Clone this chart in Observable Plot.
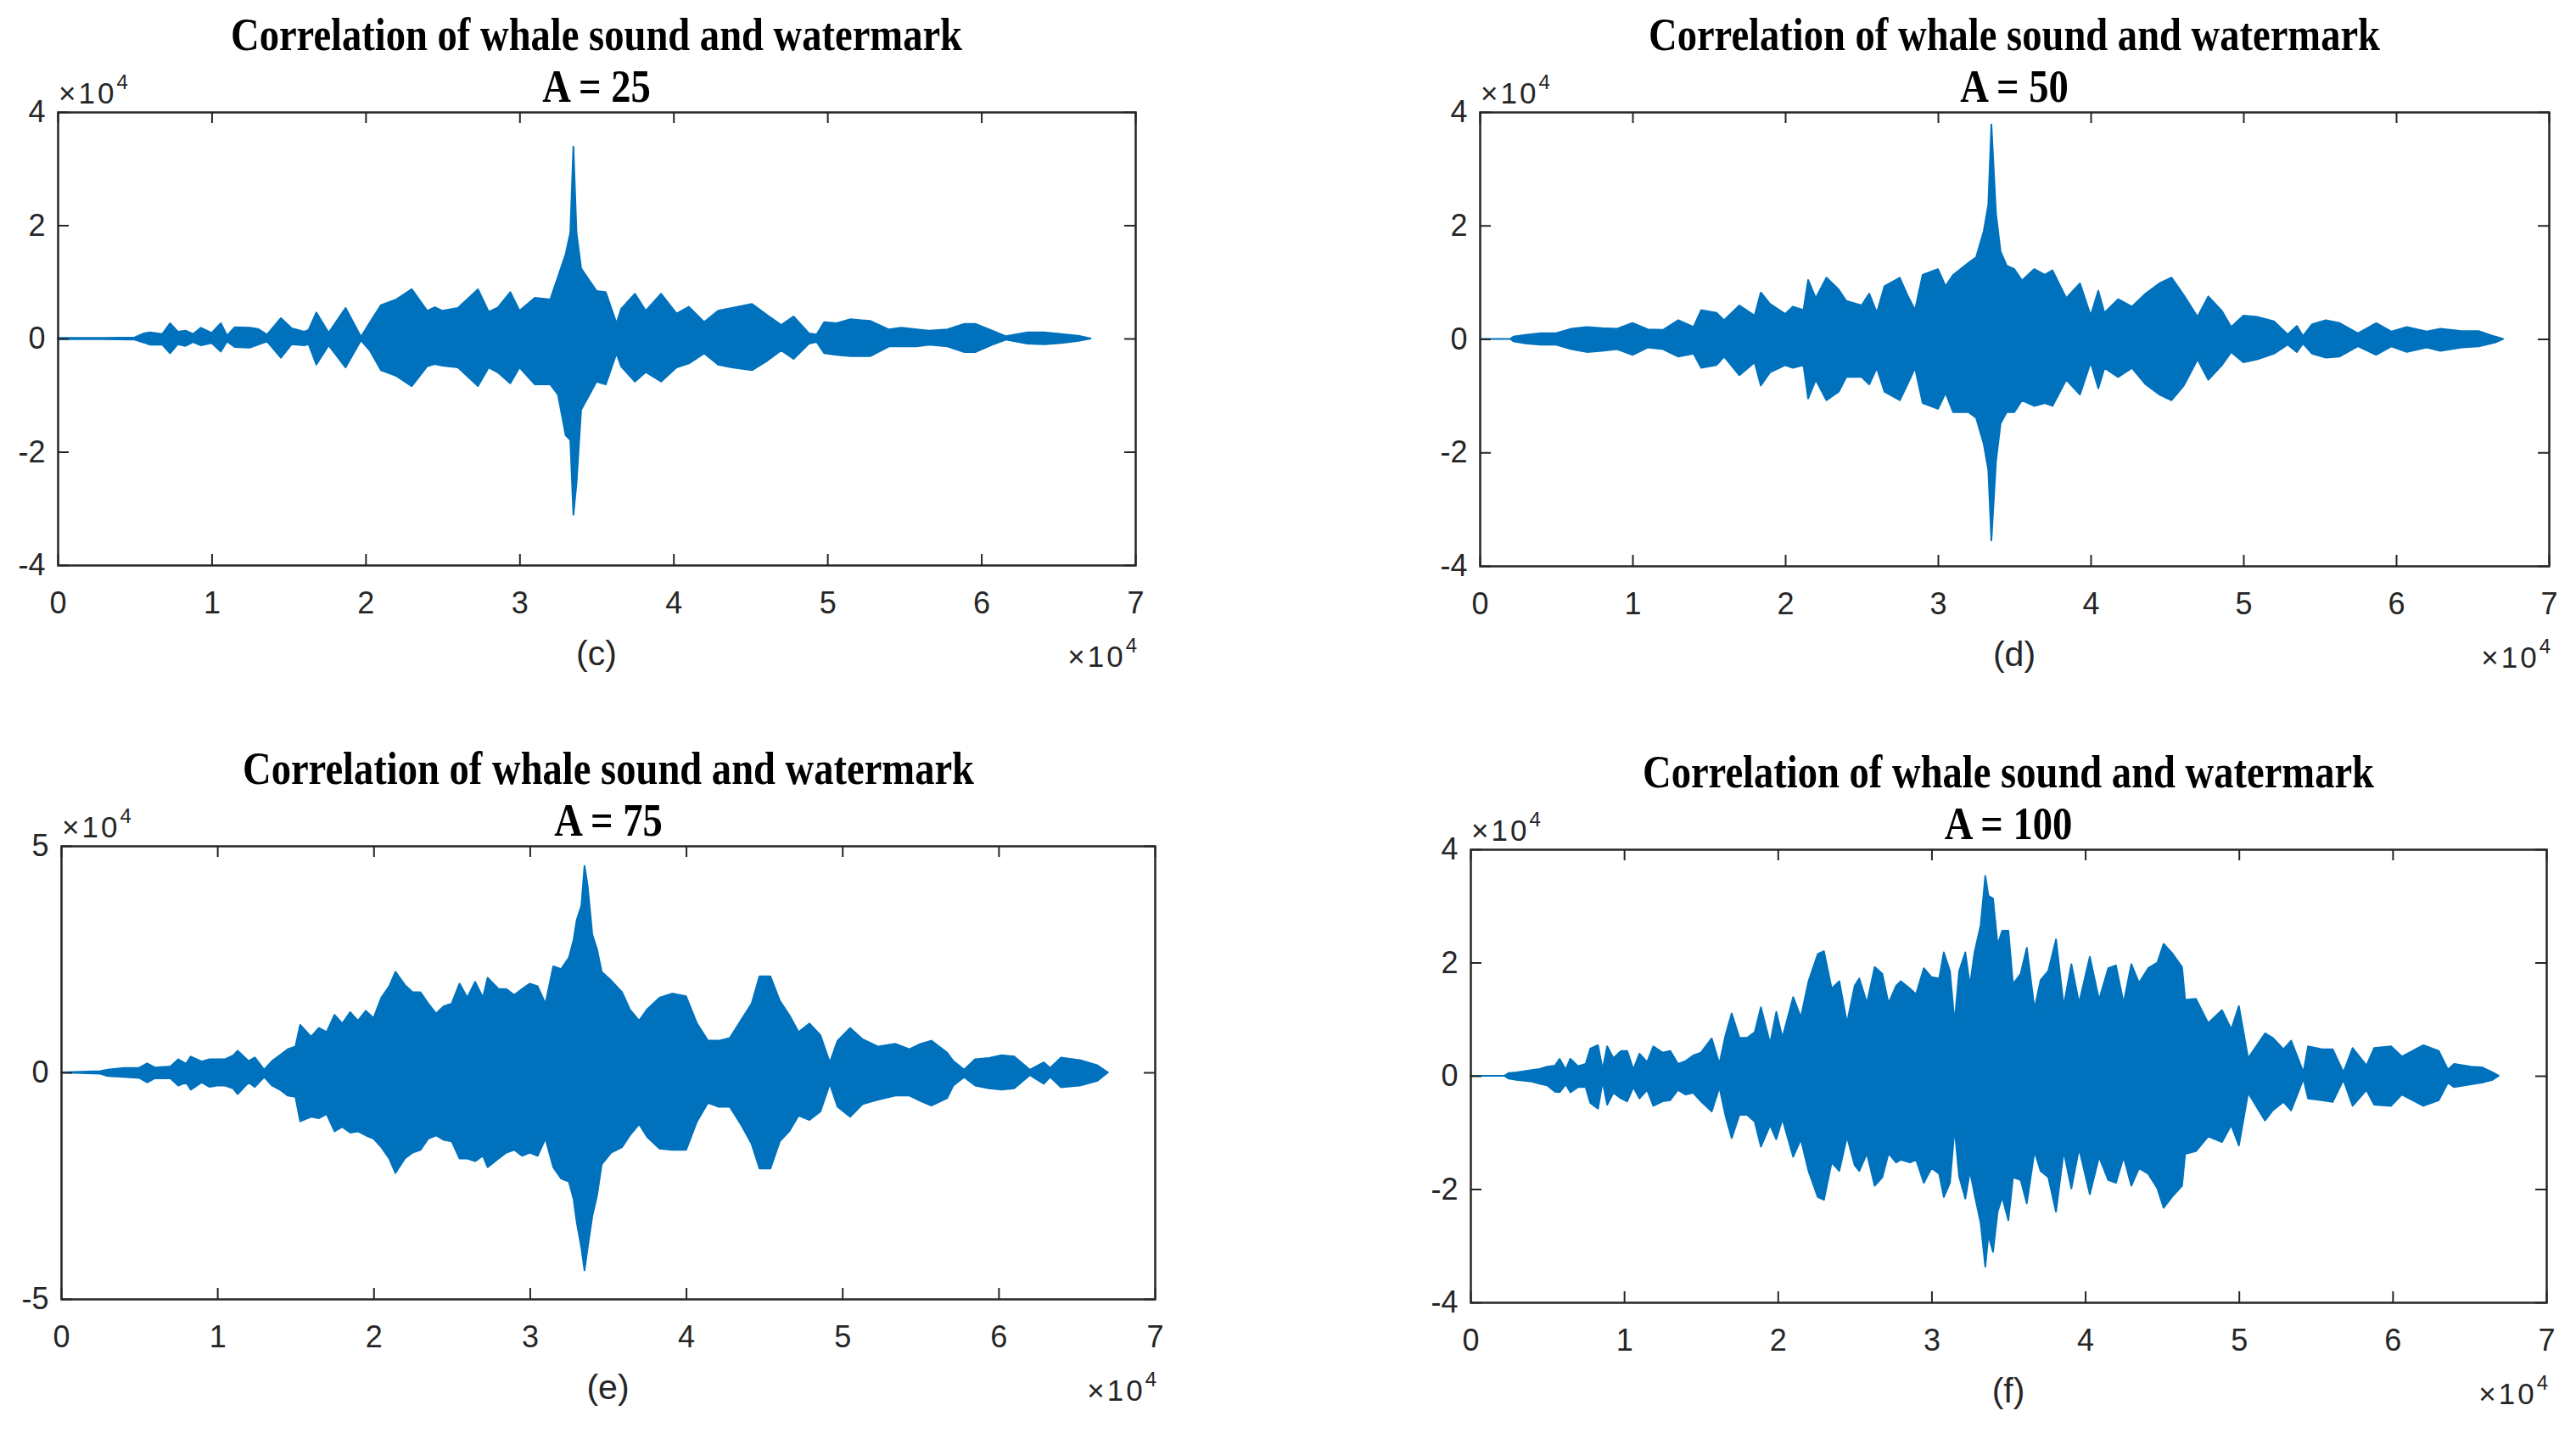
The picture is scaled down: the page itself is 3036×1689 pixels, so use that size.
<!DOCTYPE html>
<html>
<head>
<meta charset="utf-8">
<script src="https://cdn.jsdelivr.net/npm/d3@7"></script>
<script src="https://cdn.jsdelivr.net/npm/@observablehq/plot@0.6"></script>
<style>
  html, body { margin: 0; padding: 0; background: #fff; }
  body { width: 3036px; height: 1689px; position: relative; overflow: hidden; font-family: "Liberation Sans", Arial, sans-serif; }
  .abs { position: absolute; white-space: nowrap; }
  .title { font-family: "Liberation Serif", "Times New Roman", serif; font-weight: bold; font-size: 54px; color: #000; line-height: 1; }
  .expo { font-size: 35px; color: #262626; line-height: 1; letter-spacing: 3px; }
  .expo sup { font-size: 24px; position: relative; top: -4px; letter-spacing: 0; }
  .sub { font-size: 41px; color: #262626; line-height: 1; }
</style>
</head>
<body>
<script>
// ---- data (x in units of 10^4 samples, correlation in units of 10^4) ----
const xTicks = [0, 1, 2, 3, 4, 5, 6, 7];
const yTicks4 = [-4, -2, 0, 2, 4];
const yTicks5 = [-5, 0, 5];
const titleLine = "Correlation of whale sound and watermark";
const amplitudes = ["A = 25", "A = 50", "A = 75", "A = 100"];
const subLabels = ["(c)", "(d)", "(e)", "(f)"];

// Panel (c), A = 25 : upper / lower envelope of the waveform
const cX = [0,0.3,0.5,0.56,0.6,0.68,0.73,0.78,0.83,0.88,0.93,1.0,1.06,1.1,1.15,1.25,1.3,1.36,1.45,1.52,1.6,1.63,1.68,1.76,1.87,1.97,2.03,2.1,2.2,2.3,2.4,2.45,2.5,2.6,2.73,2.8,2.86,2.94,3.0,3.1,3.2,3.25,3.3,3.33,3.35,3.37,3.4,3.45,3.5,3.56,3.63,3.66,3.75,3.82,3.92,4.02,4.1,4.2,4.29,4.38,4.51,4.61,4.7,4.78,4.88,4.93,4.98,5.06,5.15,5.28,5.4,5.48,5.58,5.66,5.78,5.89,5.96,6.07,6.16,6.3,6.41,6.52,6.63,6.71];
const cTop = [0.01,0.01,0.02,0.09,0.11,0.08,0.27,0.12,0.14,0.08,0.19,0.10,0.27,0.05,0.20,0.19,0.17,0.07,0.36,0.18,0.12,0.15,0.46,0.10,0.54,0.03,0.29,0.59,0.69,0.87,0.49,0.55,0.49,0.54,0.87,0.47,0.55,0.82,0.49,0.72,0.69,1.09,1.49,1.87,3.39,1.87,1.24,1.04,0.84,0.82,0.27,0.52,0.79,0.49,0.79,0.44,0.56,0.29,0.49,0.54,0.61,0.41,0.24,0.39,0.09,0.07,0.29,0.27,0.34,0.31,0.16,0.19,0.16,0.14,0.16,0.26,0.26,0.14,0.04,0.11,0.11,0.08,0.05,0];
const cBot = [-0.01,-0.01,-0.02,-0.07,-0.11,-0.11,-0.26,-0.10,-0.13,-0.06,-0.12,-0.08,-0.23,-0.05,-0.15,-0.16,-0.11,-0.05,-0.34,-0.10,-0.12,-0.10,-0.46,-0.12,-0.51,-0.03,-0.22,-0.56,-0.66,-0.84,-0.49,-0.45,-0.48,-0.51,-0.84,-0.51,-0.60,-0.79,-0.51,-0.81,-0.81,-0.99,-1.71,-1.79,-3.11,-2.56,-1.26,-1.01,-0.76,-0.81,-0.26,-0.49,-0.76,-0.59,-0.76,-0.51,-0.44,-0.26,-0.46,-0.51,-0.56,-0.39,-0.21,-0.36,-0.09,-0.06,-0.26,-0.29,-0.31,-0.31,-0.14,-0.14,-0.14,-0.11,-0.14,-0.24,-0.24,-0.11,-0.02,-0.09,-0.10,-0.08,-0.04,0];

// Panel (d), A = 50
const dX = [0,0.2,0.22,0.3,0.4,0.5,0.6,0.7,0.8,0.9,1.0,1.1,1.2,1.3,1.4,1.45,1.55,1.6,1.7,1.8,1.84,1.9,2.0,2.05,2.12,2.15,2.2,2.27,2.35,2.4,2.5,2.55,2.6,2.65,2.75,2.8,2.85,2.9,3.0,3.05,3.1,3.2,3.25,3.3,3.33,3.35,3.38,3.41,3.45,3.5,3.55,3.63,3.7,3.75,3.84,3.93,4.0,4.05,4.09,4.18,4.27,4.36,4.45,4.53,4.61,4.7,4.77,4.86,4.92,5.0,5.09,5.2,5.29,5.35,5.39,5.45,5.54,5.63,5.75,5.87,5.97,6.07,6.2,6.29,6.43,6.54,6.65,6.7];
const dTop = [0,0,0.04,0.07,0.10,0.10,0.18,0.21,0.19,0.18,0.28,0.17,0.16,0.33,0.21,0.51,0.46,0.33,0.59,0.41,0.82,0.62,0.44,0.57,0.51,1.04,0.72,1.08,0.87,0.67,0.59,0.80,0.46,0.93,1.08,0.77,0.51,1.13,1.23,0.93,1.13,1.34,1.44,1.90,2.37,3.78,2.21,1.54,1.29,1.23,1.03,1.23,1.13,1.21,0.72,0.98,0.41,0.85,0.46,0.70,0.57,0.80,0.98,1.08,0.77,0.39,0.75,0.49,0.21,0.41,0.39,0.31,0.08,0.23,0.05,0.26,0.33,0.28,0.10,0.28,0.13,0.21,0.13,0.18,0.14,0.14,0.04,0];
const dBot = [0,0,-0.04,-0.08,-0.10,-0.10,-0.18,-0.23,-0.21,-0.18,-0.28,-0.15,-0.18,-0.31,-0.26,-0.51,-0.46,-0.31,-0.64,-0.41,-0.82,-0.59,-0.46,-0.51,-0.46,-1.05,-0.72,-1.08,-0.93,-0.67,-0.67,-0.80,-0.51,-0.93,-1.08,-0.80,-0.51,-1.13,-1.23,-0.95,-1.29,-1.29,-1.39,-1.85,-2.31,-3.55,-2.16,-1.49,-1.29,-1.29,-1.08,-1.18,-1.13,-1.18,-0.72,-0.98,-0.41,-0.87,-0.51,-0.67,-0.51,-0.80,-0.98,-1.08,-0.82,-0.36,-0.72,-0.46,-0.23,-0.41,-0.36,-0.26,-0.10,-0.23,-0.08,-0.26,-0.33,-0.31,-0.13,-0.28,-0.13,-0.23,-0.15,-0.21,-0.15,-0.13,-0.06,0];

// Panel (e), A = 75
const eX = [0,0.25,0.3,0.4,0.5,0.55,0.6,0.7,0.75,0.8,0.83,0.9,0.95,1.0,1.05,1.1,1.13,1.2,1.24,1.3,1.35,1.4,1.45,1.5,1.53,1.6,1.65,1.7,1.75,1.8,1.85,1.9,1.95,2.0,2.05,2.1,2.14,2.2,2.25,2.3,2.35,2.4,2.45,2.5,2.55,2.6,2.65,2.7,2.73,2.8,2.85,2.9,2.95,3.0,3.05,3.1,3.15,3.2,3.25,3.28,3.3,3.33,3.35,3.37,3.4,3.43,3.46,3.52,3.59,3.64,3.7,3.75,3.83,3.91,4.0,4.07,4.14,4.21,4.28,4.35,4.42,4.47,4.54,4.6,4.66,4.72,4.79,4.86,4.92,4.97,5.05,5.13,5.23,5.34,5.43,5.5,5.57,5.67,5.71,5.78,5.85,5.94,6.02,6.1,6.2,6.29,6.33,6.4,6.52,6.63,6.7];
const eTop = [0,0.03,0.06,0.10,0.10,0.20,0.11,0.13,0.29,0.19,0.35,0.24,0.29,0.29,0.29,0.37,0.48,0.25,0.33,0.06,0.25,0.38,0.51,0.57,1.05,0.79,0.98,0.89,1.27,1.08,1.33,1.14,1.36,1.20,1.65,1.90,2.22,1.93,1.77,1.77,1.52,1.30,1.46,1.52,1.96,1.65,2.00,1.65,2.09,1.84,1.84,1.71,1.84,1.96,1.90,1.52,2.34,2.28,2.53,2.92,3.36,3.68,4.56,4.12,3.04,2.72,2.22,2.03,1.77,1.39,1.14,1.39,1.65,1.74,1.68,1.08,0.70,0.70,0.76,1.14,1.52,2.12,2.12,1.58,1.27,0.89,1.08,0.82,0.22,0.70,0.98,0.73,0.57,0.63,0.51,0.63,0.70,0.44,0.25,0.06,0.29,0.32,0.38,0.35,0.06,0.22,0.10,0.33,0.27,0.16,0];
const eBot = [0,-0.03,-0.08,-0.10,-0.12,-0.22,-0.13,-0.13,-0.29,-0.22,-0.38,-0.22,-0.32,-0.29,-0.29,-0.35,-0.48,-0.22,-0.32,-0.10,-0.29,-0.38,-0.51,-0.54,-1.08,-0.98,-1.01,-0.92,-1.30,-1.20,-1.33,-1.30,-1.39,-1.46,-1.65,-1.90,-2.22,-1.90,-1.77,-1.71,-1.46,-1.39,-1.49,-1.52,-1.90,-1.90,-1.96,-1.84,-2.09,-1.90,-1.77,-1.71,-1.84,-1.77,-1.84,-1.46,-2.09,-2.34,-2.41,-2.79,-3.30,-3.87,-4.37,-3.87,-3.17,-2.72,-2.03,-1.77,-1.65,-1.39,-1.14,-1.42,-1.68,-1.71,-1.71,-1.08,-0.67,-0.76,-0.76,-1.14,-1.58,-2.12,-2.12,-1.52,-1.30,-0.95,-1.05,-0.86,-0.25,-0.76,-0.98,-0.70,-0.60,-0.51,-0.51,-0.63,-0.73,-0.57,-0.29,-0.10,-0.29,-0.35,-0.38,-0.35,-0.06,-0.25,-0.10,-0.33,-0.29,-0.19,0];

// Panel (f), A = 100
const fX = [0,0.22,0.25,0.3,0.4,0.45,0.5,0.55,0.58,0.62,0.65,0.7,0.75,0.78,0.83,0.86,0.89,0.93,0.98,1.02,1.06,1.1,1.15,1.19,1.25,1.3,1.35,1.4,1.45,1.5,1.57,1.62,1.66,1.7,1.75,1.8,1.85,1.89,1.95,1.99,2.03,2.1,2.15,2.2,2.26,2.3,2.35,2.4,2.45,2.5,2.53,2.58,2.63,2.68,2.72,2.77,2.8,2.86,2.9,2.95,3.0,3.05,3.08,3.12,3.15,3.18,3.22,3.25,3.28,3.32,3.35,3.37,3.4,3.43,3.46,3.5,3.53,3.58,3.62,3.67,3.71,3.76,3.81,3.86,3.91,3.96,4.03,4.09,4.15,4.2,4.25,4.3,4.35,4.41,4.47,4.51,4.57,4.63,4.65,4.72,4.8,4.89,4.95,5.0,5.06,5.17,5.22,5.29,5.34,5.42,5.45,5.54,5.61,5.68,5.74,5.83,5.88,5.99,6.06,6.2,6.3,6.36,6.4,6.51,6.58,6.65,6.69];
const fTop = [0,0,0.05,0.06,0.10,0.12,0.16,0.18,0.30,0.11,0.30,0.17,0.21,0.48,0.54,0.11,0.52,0.31,0.44,0.44,0.11,0.39,0.24,0.52,0.41,0.44,0.21,0.26,0.36,0.41,0.66,0.21,0.72,1.10,0.67,0.67,0.77,1.21,0.57,1.13,0.67,1.39,1.03,1.67,2.15,2.20,1.54,1.67,0.93,1.59,1.72,1.28,1.92,1.80,1.28,1.59,1.67,1.54,1.44,1.90,1.74,1.72,2.18,1.85,0.93,1.85,2.18,1.59,2.18,2.66,3.53,3.18,3.13,2.31,2.56,2.56,1.62,1.80,2.26,1.18,1.69,1.85,2.41,1.23,1.97,1.28,2.10,1.34,1.90,1.95,1.28,1.97,1.64,1.90,2.00,2.33,2.15,1.92,1.34,1.36,0.93,1.16,0.82,1.23,0.31,0.75,0.67,0.47,0.62,0.06,0.52,0.47,0.47,0.06,0.49,0.18,0.49,0.52,0.34,0.54,0.44,0.11,0.21,0.16,0.15,0.06,0];
const fBot = [0,0,-0.05,-0.07,-0.10,-0.14,-0.17,-0.28,-0.29,-0.15,-0.29,-0.20,-0.20,-0.48,-0.58,-0.10,-0.51,-0.30,-0.40,-0.45,-0.20,-0.40,-0.25,-0.53,-0.45,-0.43,-0.25,-0.33,-0.30,-0.45,-0.63,-0.20,-0.71,-1.10,-0.69,-0.69,-0.81,-1.25,-0.87,-1.12,-0.76,-1.43,-1.12,-1.68,-2.14,-2.19,-1.53,-1.68,-1.07,-1.58,-1.68,-1.37,-1.94,-1.79,-1.37,-1.53,-1.48,-1.53,-1.48,-1.89,-1.63,-1.73,-2.14,-1.89,-0.92,-1.78,-2.17,-1.68,-2.09,-2.60,-3.37,-2.81,-3.11,-2.40,-2.14,-2.55,-1.79,-1.84,-2.25,-1.33,-1.68,-1.79,-2.40,-1.33,-1.99,-1.28,-2.09,-1.43,-1.84,-1.89,-1.43,-1.94,-1.63,-1.73,-1.99,-2.33,-2.12,-1.94,-1.38,-1.33,-1.07,-1.17,-0.87,-1.23,-0.30,-0.79,-0.61,-0.46,-0.61,-0.05,-0.40,-0.43,-0.46,-0.07,-0.53,-0.25,-0.51,-0.53,-0.33,-0.53,-0.43,-0.12,-0.20,-0.15,-0.12,-0.07,0];

// ---- layout (pixel boxes of each axes frame) ----
const panels = [
  {x: cX, top: cTop, bot: cBot, yTicks: yTicks4, yDom: [-4, 4], amp: amplitudes[0], sub: subLabels[0], box: {L: 68,   R: 1338, T: 132,  B: 666}},
  {x: dX, top: dTop, bot: dBot, yTicks: yTicks4, yDom: [-4, 4], amp: amplitudes[1], sub: subLabels[1], box: {L: 1744, R: 3004, T: 132,  B: 667}},
  {x: eX, top: eTop, bot: eBot, yTicks: yTicks5, yDom: [-5, 5], amp: amplitudes[2], sub: subLabels[2], box: {L: 72,   R: 1361, T: 997,  B: 1531}},
  {x: fX, top: fTop, bot: fBot, yTicks: yTicks4, yDom: [-4, 4], amp: amplitudes[3], sub: subLabels[3], box: {L: 1733, R: 3001, T: 1001, B: 1535}}
];

const BLUE = "#0072BD";
const AXIS = "#262626";
const TICK = 13;

function addText(cls, html, cx, cy, anchor) {
  const el = document.createElement("div");
  el.className = "abs " + cls;
  el.innerHTML = html;
  document.body.appendChild(el);
  const tx = anchor === "start" ? "0" : anchor === "end" ? "-100%" : "-50%";
  el.style.left = cx + "px";
  el.style.top = cy + "px";
  el.style.transform = `translate(${tx}, -50%)`;
  return el;
}

panels.forEach(p => {
  const {L, R, T, B} = p.box;
  const W = R - L, H = B - T;
  const mL = 90, mR = 30, mT = 20, mB = 80;
  const rows = p.x.map((x, i) => ({x, top: p.top[i], bot: p.bot[i]}));

  const chart = Plot.plot({
    width: W + mL + mR,
    height: H + mT + mB,
    marginLeft: mL, marginRight: mR, marginTop: mT, marginBottom: mB,
    x: {domain: [0, 7], label: null},
    y: {domain: p.yDom, label: null},
    style: {fontFamily: '"Liberation Sans", Arial, sans-serif', fontSize: "36px", color: AXIS, background: "transparent", overflow: "visible"},
    marks: [
      Plot.areaY(rows, {x: "x", y1: "bot", y2: "top", curve: "linear", fill: BLUE, stroke: BLUE, strokeWidth: 2}),
      Plot.ruleX(xTicks, {x: d => d, insetTop: H - TICK, stroke: AXIS, strokeWidth: 2}),
      Plot.ruleX(xTicks, {x: d => d, insetBottom: H - TICK, stroke: AXIS, strokeWidth: 2}),
      Plot.ruleY(p.yTicks, {y: d => d, insetRight: W - TICK, stroke: AXIS, strokeWidth: 2}),
      Plot.ruleY(p.yTicks, {y: d => d, insetLeft: W - TICK, stroke: AXIS, strokeWidth: 2}),
      Plot.frame({stroke: AXIS, strokeWidth: 2.5}),
      Plot.axisX(xTicks, {anchor: "bottom", tickSize: 0, tickPadding: 31, label: null, tickFormat: d => String(d)}),
      Plot.axisY(p.yTicks, {anchor: "left", tickSize: 0, tickPadding: 15, label: null, tickFormat: d => String(d)})
    ]
  });
  chart.style.position = "absolute";
  chart.style.left = (L - mL) + "px";
  chart.style.top = (T - mT) + "px";
  document.body.appendChild(chart);

  const cx = (L + R) / 2;
  // titles
  const t1 = addText("title", titleLine, cx, T - 91, "middle");
  const t2 = addText("title", p.amp, cx, T - 30, "middle");
  const w = t1.getBoundingClientRect().width;
  const s = 862 / w;
  t1.style.transform = `translate(-50%, -50%) scaleX(${s})`;
  t2.style.transform = `translate(-50%, -50%) scaleX(${s})`;
  // exponent labels
  addText("expo", "×10<sup>4</sup>", L + 1, T - 24, "start");
  addText("expo", "×10<sup>4</sup>", R + 2, B + 106, "end");
  // sub caption
  addText("sub", p.sub, cx, B + 104, "middle");
});
</script>
</body>
</html>
